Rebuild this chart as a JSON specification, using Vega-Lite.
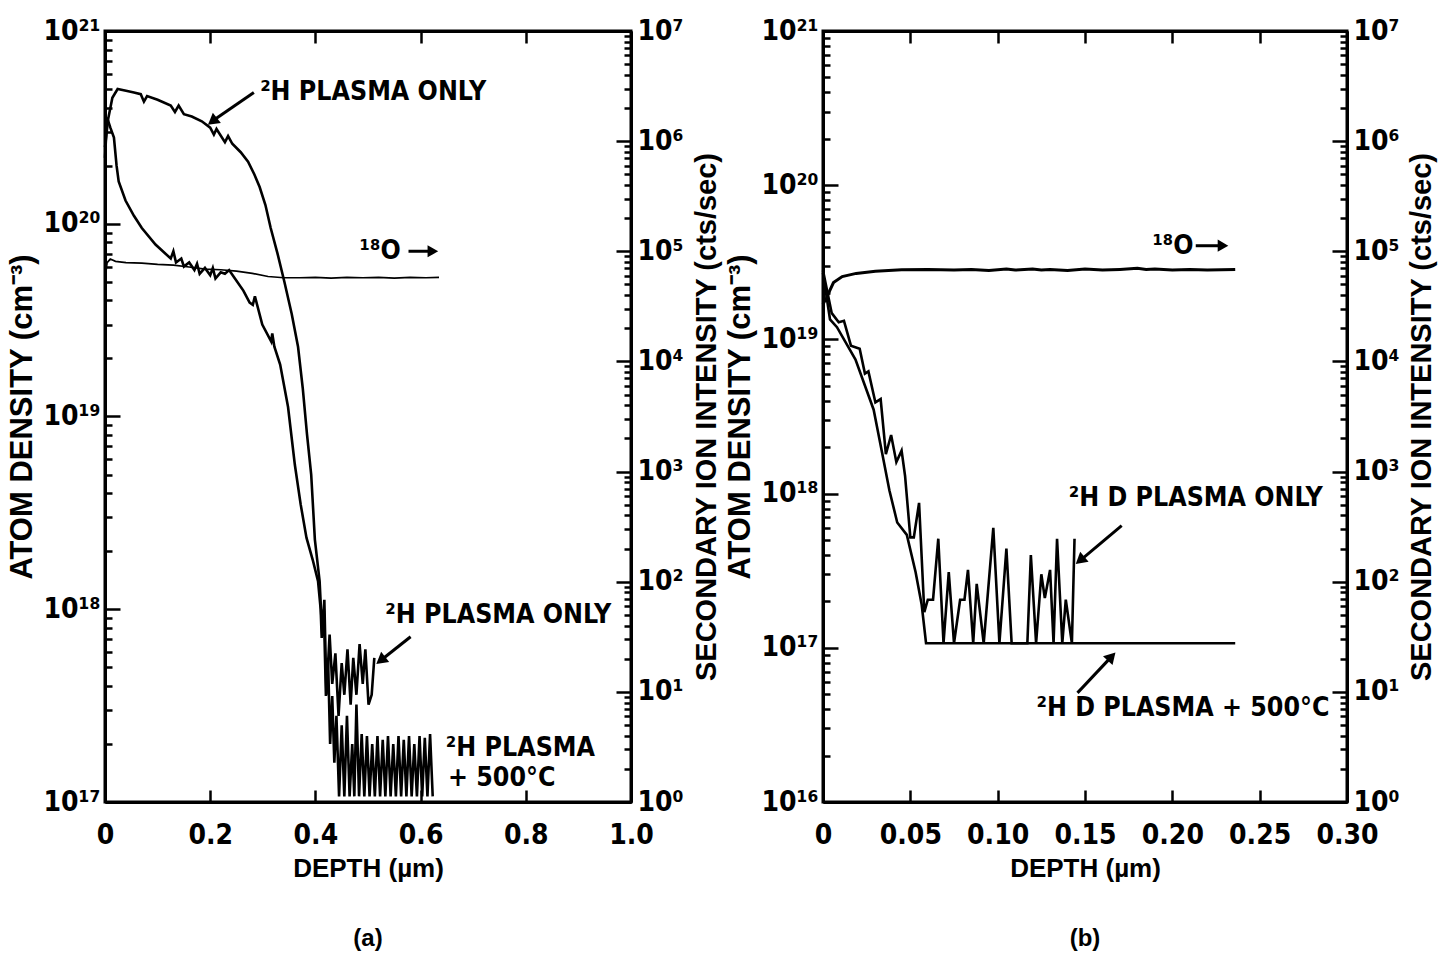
{
  "$schema": "https://vega.github.io/schema/vega-lite/v6.json",
  "background": "white",
  "padding": {"left": 5, "top": 15, "right": 0, "bottom": 0},
  "spacing": 0,
  "config": {
    "font": "Liberation Sans",
    "view": {"stroke": "black", "strokeWidth": 3},
    "axis": {
      "domainColor": "black", "domainWidth": 3, "tickColor": "black", "tickWidth": 2.5,
      "labelFont": "Liberation Sans Narrow, Arial Narrow, DejaVu Sans Condensed, sans-serif",
      "labelFontWeight": "bold", "labelFontSize": 28, "labelColor": "black",
      "titleFont": "Liberation Sans", "titleFontWeight": "bold", "titleFontSize": 26, "titleColor": "black",
      "grid": false, "labelOverlap": false, "labelBound": false, "labelFlush": false
    },
    "title": {"font": "Liberation Sans", "fontWeight": "bold", "color": "black", "fontSize": 24}
  },
  "datasets": {
    "a_h": [
      {"s": "only", "depth": 0.000, "conc": 2.5e20}, {"s": "only", "depth": 0.006, "conc": 3.5e20}, {"s": "only", "depth": 0.014, "conc": 4.5e20}, {"s": "only", "depth": 0.024, "conc": 5.0e20},
      {"s": "only", "depth": 0.040, "conc": 4.9e20}, {"s": "only", "depth": 0.055, "conc": 4.8e20}, {"s": "only", "depth": 0.068, "conc": 4.7e20}, {"s": "only", "depth": 0.074, "conc": 4.3e20},
      {"s": "only", "depth": 0.080, "conc": 4.6e20}, {"s": "only", "depth": 0.100, "conc": 4.4e20}, {"s": "only", "depth": 0.125, "conc": 4.1e20}, {"s": "only", "depth": 0.133, "conc": 3.8e20},
      {"s": "only", "depth": 0.140, "conc": 4.1e20}, {"s": "only", "depth": 0.150, "conc": 3.7e20}, {"s": "only", "depth": 0.165, "conc": 3.6e20}, {"s": "only", "depth": 0.184, "conc": 3.4e20},
      {"s": "only", "depth": 0.200, "conc": 3.15e20}, {"s": "only", "depth": 0.207, "conc": 2.9e20}, {"s": "only", "depth": 0.212, "conc": 3.1e20}, {"s": "only", "depth": 0.228, "conc": 2.65e20},
      {"s": "only", "depth": 0.234, "conc": 2.85e20}, {"s": "only", "depth": 0.242, "conc": 2.6e20}, {"s": "only", "depth": 0.258, "conc": 2.35e20}, {"s": "only", "depth": 0.272, "conc": 2.1e20},
      {"s": "only", "depth": 0.284, "conc": 1.8e20}, {"s": "only", "depth": 0.294, "conc": 1.55e20}, {"s": "only", "depth": 0.305, "conc": 1.25e20}, {"s": "only", "depth": 0.315, "conc": 9.5e19},
      {"s": "only", "depth": 0.328, "conc": 7.0e19}, {"s": "only", "depth": 0.341, "conc": 5.0e19}, {"s": "only", "depth": 0.355, "conc": 3.4e19}, {"s": "only", "depth": 0.367, "conc": 2.3e19},
      {"s": "only", "depth": 0.376, "conc": 1.4e19}, {"s": "only", "depth": 0.384, "conc": 8.1e18}, {"s": "only", "depth": 0.392, "conc": 5.0e18}, {"s": "only", "depth": 0.399, "conc": 2.3e18},
      {"s": "only", "depth": 0.408, "conc": 1.4e18}, {"s": "only", "depth": 0.413, "conc": 7.4e17}, {"s": "only", "depth": 0.417, "conc": 1.12e18}, {"s": "only", "depth": 0.421, "conc": 3.6e17},
      {"s": "only", "depth": 0.427, "conc": 7.4e17}, {"s": "only", "depth": 0.432, "conc": 4.1e17}, {"s": "only", "depth": 0.438, "conc": 5.9e17}, {"s": "only", "depth": 0.444, "conc": 2.8e17},
      {"s": "only", "depth": 0.450, "conc": 5.25e17}, {"s": "only", "depth": 0.455, "conc": 3.6e17}, {"s": "only", "depth": 0.461, "conc": 6.2e17}, {"s": "only", "depth": 0.467, "conc": 3.2e17},
      {"s": "only", "depth": 0.472, "conc": 5.6e17}, {"s": "only", "depth": 0.478, "conc": 3.6e17}, {"s": "only", "depth": 0.484, "conc": 6.6e17}, {"s": "only", "depth": 0.490, "conc": 4.1e17},
      {"s": "only", "depth": 0.495, "conc": 6.2e17}, {"s": "only", "depth": 0.501, "conc": 3.2e17}, {"s": "only", "depth": 0.507, "conc": 3.6e17}, {"s": "only", "depth": 0.512, "conc": 5.6e17},
      {"s": "anneal", "depth": 0.000, "conc": 2.2e20}, {"s": "anneal", "depth": 0.004, "conc": 3.55e20}, {"s": "anneal", "depth": 0.010, "conc": 3.16e20}, {"s": "anneal", "depth": 0.017, "conc": 2.8e20},
      {"s": "anneal", "depth": 0.022, "conc": 2.0e20}, {"s": "anneal", "depth": 0.026, "conc": 1.66e20}, {"s": "anneal", "depth": 0.039, "conc": 1.32e20}, {"s": "anneal", "depth": 0.055, "conc": 1.1e20},
      {"s": "anneal", "depth": 0.070, "conc": 9.5e19}, {"s": "anneal", "depth": 0.096, "conc": 7.8e19}, {"s": "anneal", "depth": 0.125, "conc": 6.6e19}, {"s": "anneal", "depth": 0.130, "conc": 7.2e19},
      {"s": "anneal", "depth": 0.135, "conc": 6.3e19}, {"s": "anneal", "depth": 0.145, "conc": 6.6e19}, {"s": "anneal", "depth": 0.150, "conc": 6.0e19}, {"s": "anneal", "depth": 0.160, "conc": 6.3e19},
      {"s": "anneal", "depth": 0.170, "conc": 5.75e19}, {"s": "anneal", "depth": 0.175, "conc": 6.2e19}, {"s": "anneal", "depth": 0.180, "conc": 5.5e19}, {"s": "anneal", "depth": 0.190, "conc": 5.9e19},
      {"s": "anneal", "depth": 0.200, "conc": 5.4e19}, {"s": "anneal", "depth": 0.205, "conc": 5.9e19}, {"s": "anneal", "depth": 0.210, "conc": 5.2e19}, {"s": "anneal", "depth": 0.220, "conc": 5.6e19},
      {"s": "anneal", "depth": 0.228, "conc": 5.5e19}, {"s": "anneal", "depth": 0.236, "conc": 5.75e19}, {"s": "anneal", "depth": 0.246, "conc": 5.25e19}, {"s": "anneal", "depth": 0.263, "conc": 4.5e19},
      {"s": "anneal", "depth": 0.275, "conc": 3.9e19}, {"s": "anneal", "depth": 0.281, "conc": 3.8e19}, {"s": "anneal", "depth": 0.285, "conc": 4.2e19}, {"s": "anneal", "depth": 0.299, "conc": 3.0e19},
      {"s": "anneal", "depth": 0.316, "conc": 2.45e19}, {"s": "anneal", "depth": 0.318, "conc": 2.7e19}, {"s": "anneal", "depth": 0.322, "conc": 2.3e19}, {"s": "anneal", "depth": 0.333, "conc": 1.86e19},
      {"s": "anneal", "depth": 0.348, "conc": 1.12e19}, {"s": "anneal", "depth": 0.361, "conc": 5.6e18}, {"s": "anneal", "depth": 0.372, "conc": 3.5e18}, {"s": "anneal", "depth": 0.383, "conc": 2.35e18},
      {"s": "anneal", "depth": 0.395, "conc": 1.8e18}, {"s": "anneal", "depth": 0.405, "conc": 1.4e18}, {"s": "anneal", "depth": 0.410, "conc": 1.0e18}, {"s": "anneal", "depth": 0.412, "conc": 7.1e17},
      {"s": "anneal", "depth": 0.416, "conc": 1.0e18}, {"s": "anneal", "depth": 0.420, "conc": 3.55e17}, {"s": "anneal", "depth": 0.424, "conc": 5.6e17}, {"s": "anneal", "depth": 0.428, "conc": 2.0e17},
      {"s": "anneal", "depth": 0.432, "conc": 3.55e17}, {"s": "anneal", "depth": 0.436, "conc": 1.6e17}, {"s": "anneal", "depth": 0.440, "conc": 2.8e17}, {"s": "anneal", "depth": 0.445, "conc": 1.07e17},
      {"s": "anneal", "depth": 0.450, "conc": 2.5e17}, {"s": "anneal", "depth": 0.455, "conc": 1.07e17}, {"s": "anneal", "depth": 0.460, "conc": 2.8e17}, {"s": "anneal", "depth": 0.465, "conc": 1.07e17},
      {"s": "anneal", "depth": 0.470, "conc": 2.0e17}, {"s": "anneal", "depth": 0.474, "conc": 1.07e17}, {"s": "anneal", "depth": 0.478, "conc": 3.2e17}, {"s": "anneal", "depth": 0.483, "conc": 1.07e17},
      {"s": "anneal", "depth": 0.488, "conc": 2.25e17}, {"s": "anneal", "depth": 0.493, "conc": 1.07e17}, {"s": "anneal", "depth": 0.498, "conc": 2.2e17}, {"s": "anneal", "depth": 0.503, "conc": 1.07e17},
      {"s": "anneal", "depth": 0.508, "conc": 2.0e17}, {"s": "anneal", "depth": 0.513, "conc": 1.07e17}, {"s": "anneal", "depth": 0.518, "conc": 2.2e17}, {"s": "anneal", "depth": 0.523, "conc": 1.07e17},
      {"s": "anneal", "depth": 0.528, "conc": 2.1e17}, {"s": "anneal", "depth": 0.533, "conc": 1.07e17}, {"s": "anneal", "depth": 0.538, "conc": 2.2e17}, {"s": "anneal", "depth": 0.543, "conc": 1.07e17},
      {"s": "anneal", "depth": 0.548, "conc": 2.0e17}, {"s": "anneal", "depth": 0.553, "conc": 1.07e17}, {"s": "anneal", "depth": 0.558, "conc": 2.2e17}, {"s": "anneal", "depth": 0.563, "conc": 1.07e17},
      {"s": "anneal", "depth": 0.568, "conc": 2.1e17}, {"s": "anneal", "depth": 0.573, "conc": 1.07e17}, {"s": "anneal", "depth": 0.578, "conc": 2.2e17}, {"s": "anneal", "depth": 0.583, "conc": 1.07e17},
      {"s": "anneal", "depth": 0.588, "conc": 2.0e17}, {"s": "anneal", "depth": 0.593, "conc": 1.07e17}, {"s": "anneal", "depth": 0.598, "conc": 2.2e17}, {"s": "anneal", "depth": 0.603, "conc": 1.07e17},
      {"s": "anneal", "depth": 0.608, "conc": 2.15e17}, {"s": "anneal", "depth": 0.613, "conc": 1.07e17}, {"s": "anneal", "depth": 0.618, "conc": 2.25e17}, {"s": "anneal", "depth": 0.623, "conc": 1.07e17}
    ],
    "a_o": [
      {"depth": 0.000, "cps": 5.6e4}, {"depth": 0.004, "cps": 7.9e4}, {"depth": 0.010, "cps": 8.5e4}, {"depth": 0.020, "cps": 8.1e4},
      {"depth": 0.040, "cps": 7.9e4}, {"depth": 0.070, "cps": 7.8e4}, {"depth": 0.100, "cps": 7.6e4}, {"depth": 0.130, "cps": 7.5e4},
      {"depth": 0.160, "cps": 7.2e4}, {"depth": 0.190, "cps": 6.9e4}, {"depth": 0.220, "cps": 6.8e4}, {"depth": 0.250, "cps": 6.6e4},
      {"depth": 0.280, "cps": 6.3e4}, {"depth": 0.310, "cps": 5.9e4}, {"depth": 0.340, "cps": 5.75e4}, {"depth": 0.370, "cps": 5.75e4},
      {"depth": 0.400, "cps": 5.8e4}, {"depth": 0.430, "cps": 5.7e4}, {"depth": 0.460, "cps": 5.8e4}, {"depth": 0.490, "cps": 5.75e4},
      {"depth": 0.520, "cps": 5.8e4}, {"depth": 0.550, "cps": 5.7e4}, {"depth": 0.580, "cps": 5.8e4}, {"depth": 0.610, "cps": 5.75e4},
      {"depth": 0.635, "cps": 5.8e4}
    ],
    "a_txt": [
      {"t": "²H PLASMA ONLY", "depth": 0.295, "conc": 4.84e20},
      {"t": "¹⁸O", "depth": 0.484, "conc": 7.2e19},
      {"t": "²H PLASMA ONLY", "depth": 0.533, "conc": 9.3e17},
      {"t": "²H PLASMA", "depth": 0.648, "conc": 1.9e17},
      {"t": "+ 500°C", "depth": 0.652, "conc": 1.33e17}
    ],
    "a_arr": [
      {"id": "up", "depth": 0.283, "conc": 4.8e20, "depth2": 0.207, "conc2": 3.45e20},
      {"id": "o18", "depth": 0.577, "conc": 7.2e19, "depth2": 0.62, "conc2": 7.2e19},
      {"id": "low", "depth": 0.581, "conc": 7.2e17, "depth2": 0.527, "conc2": 5.5e17}
    ],
    "b_h": [
      {"s": "only", "depth": 0.000, "conc": 2.8e19}, {"s": "only", "depth": 0.005, "conc": 1.48e19}, {"s": "only", "depth": 0.009, "conc": 1.29e19}, {"s": "only", "depth": 0.012, "conc": 1.32e19},
      {"s": "only", "depth": 0.016, "conc": 9.1e18}, {"s": "only", "depth": 0.021, "conc": 8.7e18}, {"s": "only", "depth": 0.024, "conc": 6.0e18}, {"s": "only", "depth": 0.026, "conc": 6.2e18},
      {"s": "only", "depth": 0.030, "conc": 3.9e18}, {"s": "only", "depth": 0.033, "conc": 4.1e18}, {"s": "only", "depth": 0.036, "conc": 1.8e18}, {"s": "only", "depth": 0.039, "conc": 2.4e18},
      {"s": "only", "depth": 0.042, "conc": 1.6e18}, {"s": "only", "depth": 0.045, "conc": 1.9e18}, {"s": "only", "depth": 0.047, "conc": 1.3e18}, {"s": "only", "depth": 0.050, "conc": 5.2e17},
      {"s": "only", "depth": 0.052, "conc": 5.2e17}, {"s": "only", "depth": 0.055, "conc": 8.7e17}, {"s": "only", "depth": 0.058, "conc": 1.7e17}, {"s": "only", "depth": 0.060, "conc": 2.05e17},
      {"s": "only", "depth": 0.063, "conc": 2.05e17}, {"s": "only", "depth": 0.066, "conc": 5.1e17}, {"s": "only", "depth": 0.069, "conc": 1.07e17}, {"s": "only", "depth": 0.072, "conc": 3.1e17},
      {"s": "only", "depth": 0.075, "conc": 1.07e17}, {"s": "only", "depth": 0.0785, "conc": 2.05e17}, {"s": "only", "depth": 0.081, "conc": 2.05e17}, {"s": "only", "depth": 0.083, "conc": 3.2e17},
      {"s": "only", "depth": 0.086, "conc": 1.07e17}, {"s": "only", "depth": 0.088, "conc": 2.6e17}, {"s": "only", "depth": 0.092, "conc": 1.07e17}, {"s": "only", "depth": 0.0975, "conc": 6.0e17},
      {"s": "only", "depth": 0.101, "conc": 1.07e17}, {"s": "only", "depth": 0.105, "conc": 4.4e17}, {"s": "only", "depth": 0.108, "conc": 1.07e17}, {"s": "only", "depth": 0.117, "conc": 1.07e17},
      {"s": "only", "depth": 0.119, "conc": 4.0e17}, {"s": "only", "depth": 0.122, "conc": 1.07e17}, {"s": "only", "depth": 0.125, "conc": 3.0e17}, {"s": "only", "depth": 0.127, "conc": 2.1e17},
      {"s": "only", "depth": 0.130, "conc": 3.2e17}, {"s": "only", "depth": 0.132, "conc": 1.07e17}, {"s": "only", "depth": 0.134, "conc": 5.1e17}, {"s": "only", "depth": 0.137, "conc": 1.07e17},
      {"s": "only", "depth": 0.139, "conc": 2.05e17}, {"s": "only", "depth": 0.1425, "conc": 1.07e17}, {"s": "only", "depth": 0.144, "conc": 5.1e17},
      {"s": "anneal", "depth": 0.000, "conc": 2.7e19}, {"s": "anneal", "depth": 0.004, "conc": 1.35e19}, {"s": "anneal", "depth": 0.008, "conc": 1.2e19}, {"s": "anneal", "depth": 0.0186, "conc": 7.4e18},
      {"s": "anneal", "depth": 0.029, "conc": 3.5e18}, {"s": "anneal", "depth": 0.034, "conc": 1.8e18}, {"s": "anneal", "depth": 0.038, "conc": 1.05e18}, {"s": "anneal", "depth": 0.0425, "conc": 6.5e17},
      {"s": "anneal", "depth": 0.048, "conc": 5.4e17}, {"s": "anneal", "depth": 0.053, "conc": 3.1e17}, {"s": "anneal", "depth": 0.0565, "conc": 1.9e17}, {"s": "anneal", "depth": 0.059, "conc": 1.07e17},
      {"s": "anneal", "depth": 0.130, "conc": 1.07e17}, {"s": "anneal", "depth": 0.236, "conc": 1.07e17}
    ],
    "b_o": [
      {"depth": 0.000, "cps": 3.3e4}, {"depth": 0.002, "cps": 3.8e4}, {"depth": 0.006, "cps": 5.2e4}, {"depth": 0.011, "cps": 5.9e4},
      {"depth": 0.019, "cps": 6.3e4}, {"depth": 0.030, "cps": 6.6e4}, {"depth": 0.045, "cps": 6.8e4}, {"depth": 0.060, "cps": 6.85e4},
      {"depth": 0.075, "cps": 6.75e4}, {"depth": 0.085, "cps": 6.85e4}, {"depth": 0.095, "cps": 6.7e4}, {"depth": 0.105, "cps": 6.9e4},
      {"depth": 0.110, "cps": 6.75e4}, {"depth": 0.120, "cps": 6.9e4}, {"depth": 0.125, "cps": 6.75e4}, {"depth": 0.130, "cps": 6.85e4},
      {"depth": 0.140, "cps": 6.7e4}, {"depth": 0.150, "cps": 6.9e4}, {"depth": 0.160, "cps": 6.75e4}, {"depth": 0.170, "cps": 6.85e4},
      {"depth": 0.180, "cps": 7.0e4}, {"depth": 0.185, "cps": 6.85e4}, {"depth": 0.190, "cps": 6.9e4}, {"depth": 0.200, "cps": 6.75e4},
      {"depth": 0.210, "cps": 6.85e4}, {"depth": 0.220, "cps": 6.75e4}, {"depth": 0.236, "cps": 6.85e4}
    ],
    "b_txt": [
      {"t": "¹⁸O", "depth": 0.1886, "conc": 4.05e19},
      {"t": "²H D PLASMA ONLY", "depth": 0.1407, "conc": 9.4e17},
      {"t": "²H D PLASMA + 500°C", "depth": 0.1222, "conc": 4.1e16}
    ],
    "b_arr": [
      {"id": "o18", "depth": 0.2134, "conc": 4.05e19, "depth2": 0.228, "conc2": 4.05e19},
      {"id": "top", "depth": 0.171, "conc": 6.2e17, "depth2": 0.148, "conc2": 3.75e17},
      {"id": "bot", "depth": 0.1457, "conc": 5.1e16, "depth2": 0.1645, "conc2": 8.6e16}
    ]
  },
  "hconcat": [
    {
      "width": 526,
      "height": 771,
      "title": {"text": "(a)", "orient": "bottom", "offset": 46},
      "layer": [
        {
          "layer": [
            {
              "data": {"name": "a_h"},
              "mark": {"type": "line", "color": "black", "strokeWidth": 2.6},
              "encoding": {
                "x": {"field": "depth", "type": "quantitative", "scale": {"domain": [0, 1]},
                  "axis": {"orient": "bottom", "title": "DEPTH (µm)", "titlePadding": 6,
                    "values": [0, 0.2, 0.4, 0.6, 0.8, 1.0],
                    "labelExpr": "datum.value == 0 ? '0' : format(datum.value, '.1f')",
                    "tickSize": -12, "labelPadding": 31}},
                "y": {"field": "conc", "type": "quantitative", "scale": {"type": "log", "domain": [1e17, 1e21]},
                  "axis": {"orient": "left", "title": "ATOM DENSITY (cm⁻³)", "titlePadding": 4, "titleFontSize": 31,
                    "values": [1e17,2e17,3e17,4e17,5e17,6e17,7e17,8e17,9e17,1e18,2e18,3e18,4e18,5e18,6e18,7e18,8e18,9e18,1e19,2e19,3e19,4e19,5e19,6e19,7e19,8e19,9e19,1e20,2e20,3e20,4e20,5e20,6e20,7e20,8e20,9e20,1e21],
                    "labelExpr": "abs(log(datum.value)/LN10 - round(log(datum.value)/LN10)) > 0.01 ? '' : ['10⁰','10¹','10²','10³','10⁴','10⁵','10⁶','10⁷','10⁸','10⁹','10¹⁰','10¹¹','10¹²','10¹³','10¹⁴','10¹⁵','10¹⁶','10¹⁷','10¹⁸','10¹⁹','10²⁰','10²¹'][round(log(datum.value)/LN10)]",
                    "tickSize": {"condition": {"test": "abs(log(datum.value)/LN10 - round(log(datum.value)/LN10)) < 0.01", "value": -15}, "value": -7},
                    "labelPadding": 20}},
                "detail": {"field": "s"}
              }
            },
            {
              "data": {"name": "a_txt"},
              "mark": {"type": "text", "align": "left", "baseline": "middle", "font": "Liberation Sans Narrow, Arial Narrow, DejaVu Sans Condensed, sans-serif", "fontWeight": "bold", "fontSize": 26.5, "color": "black"},
              "encoding": {
                "x": {"field": "depth", "type": "quantitative", "scale": {"domain": [0, 1]}},
                "y": {"field": "conc", "type": "quantitative", "scale": {"type": "log", "domain": [1e17, 1e21]}},
                "text": {"field": "t"}
              }
            },
            {
              "data": {"name": "a_arr"},
              "mark": {"type": "rule", "color": "black", "strokeWidth": 3},
              "encoding": {
                "x": {"field": "depth", "type": "quantitative", "scale": {"domain": [0, 1]}},
                "y": {"field": "conc", "type": "quantitative", "scale": {"type": "log", "domain": [1e17, 1e21]}},
                "x2": {"field": "depth2"},
                "y2": {"field": "conc2"}
              }
            },
            {
              "data": {"name": "a_arr"},
              "transform": [{"filter": "datum.id != 'o18'"}],
              "mark": {"type": "point", "shape": "triangle", "filled": true, "size": 170, "angle": 232, "color": "black", "opacity": 1},
              "encoding": {
                "x": {"field": "depth2", "type": "quantitative", "scale": {"domain": [0, 1]}},
                "y": {"field": "conc2", "type": "quantitative", "scale": {"type": "log", "domain": [1e17, 1e21]}}
              }
            },
            {
              "data": {"name": "a_arr"},
              "transform": [{"filter": "datum.id == 'o18'"}],
              "mark": {"type": "point", "shape": "triangle", "filled": true, "size": 150, "angle": 90, "color": "black", "opacity": 1},
              "encoding": {
                "x": {"field": "depth2", "type": "quantitative", "scale": {"domain": [0, 1]}},
                "y": {"field": "conc2", "type": "quantitative", "scale": {"type": "log", "domain": [1e17, 1e21]}}
              }
            }
          ]
        },
        {
          "data": {"name": "a_o"},
          "mark": {"type": "line", "color": "black", "strokeWidth": 1.7},
          "encoding": {
            "x": {"field": "depth", "type": "quantitative", "scale": {"domain": [0, 1]},
              "axis": {"orient": "top", "labels": false, "title": null, "values": [0, 0.2, 0.4, 0.6, 0.8, 1.0], "tickSize": -12}},
            "y": {"field": "cps", "type": "quantitative", "scale": {"type": "log", "domain": [1, 1e7]},
              "axis": {"orient": "right", "title": "SECONDARY ION INTENSITY (cts/sec)", "titleAngle": 270, "titleBaseline": "top", "titlePadding": 9, "titleFontSize": 29,
                "values": [1,2,3,4,5,6,7,8,9,10,20,30,40,50,60,70,80,90,100,200,300,400,500,600,700,800,900,1000,2000,3000,4000,5000,6000,7000,8000,9000,1e4,2e4,3e4,4e4,5e4,6e4,7e4,8e4,9e4,1e5,2e5,3e5,4e5,5e5,6e5,7e5,8e5,9e5,1e6,2e6,3e6,4e6,5e6,6e6,7e6,8e6,9e6,1e7],
                "labelExpr": "abs(log(datum.value)/LN10 - round(log(datum.value)/LN10)) > 0.01 ? '' : ['10⁰','10¹','10²','10³','10⁴','10⁵','10⁶','10⁷'][round(log(datum.value)/LN10)]",
                "tickSize": {"condition": {"test": "abs(log(datum.value)/LN10 - round(log(datum.value)/LN10)) < 0.01", "value": -15}, "value": -7},
                "labelPadding": 21}}
          }
        }
      ],
      "resolve": {"scale": {"x": "independent", "y": "independent"}}
    },
    {
      "width": 524,
      "height": 771,
      "title": {"text": "(b)", "orient": "bottom", "offset": 46},
      "layer": [
        {
          "layer": [
            {
              "data": {"name": "b_h"},
              "mark": {"type": "line", "color": "black", "strokeWidth": 2.6},
              "encoding": {
                "x": {"field": "depth", "type": "quantitative", "scale": {"domain": [0, 0.3]},
                  "axis": {"orient": "bottom", "title": "DEPTH (µm)", "titlePadding": 6,
                    "values": [0, 0.05, 0.1, 0.15, 0.2, 0.25, 0.3],
                    "labelExpr": "datum.value == 0 ? '0' : format(datum.value, '.2f')",
                    "tickSize": -12, "labelPadding": 31}},
                "y": {"field": "conc", "type": "quantitative", "scale": {"type": "log", "domain": [1e16, 1e21]},
                  "axis": {"orient": "left", "title": "ATOM DENSITY (cm⁻³)", "titlePadding": 4, "titleFontSize": 31,
                    "values": [1e16,2e16,3e16,4e16,5e16,6e16,7e16,8e16,9e16,1e17,2e17,3e17,4e17,5e17,6e17,7e17,8e17,9e17,1e18,2e18,3e18,4e18,5e18,6e18,7e18,8e18,9e18,1e19,2e19,3e19,4e19,5e19,6e19,7e19,8e19,9e19,1e20,2e20,3e20,4e20,5e20,6e20,7e20,8e20,9e20,1e21],
                    "labelExpr": "abs(log(datum.value)/LN10 - round(log(datum.value)/LN10)) > 0.01 ? '' : ['10⁰','10¹','10²','10³','10⁴','10⁵','10⁶','10⁷','10⁸','10⁹','10¹⁰','10¹¹','10¹²','10¹³','10¹⁴','10¹⁵','10¹⁶','10¹⁷','10¹⁸','10¹⁹','10²⁰','10²¹'][round(log(datum.value)/LN10)]",
                    "tickSize": {"condition": {"test": "abs(log(datum.value)/LN10 - round(log(datum.value)/LN10)) < 0.01", "value": -15}, "value": -7},
                    "labelPadding": 20}},
                "detail": {"field": "s"}
              }
            },
            {
              "data": {"name": "b_txt"},
              "mark": {"type": "text", "align": "left", "baseline": "middle", "font": "Liberation Sans Narrow, Arial Narrow, DejaVu Sans Condensed, sans-serif", "fontWeight": "bold", "fontSize": 26.5, "color": "black"},
              "encoding": {
                "x": {"field": "depth", "type": "quantitative", "scale": {"domain": [0, 0.3]}},
                "y": {"field": "conc", "type": "quantitative", "scale": {"type": "log", "domain": [1e16, 1e21]}},
                "text": {"field": "t"}
              }
            },
            {
              "data": {"name": "b_arr"},
              "mark": {"type": "rule", "color": "black", "strokeWidth": 3},
              "encoding": {
                "x": {"field": "depth", "type": "quantitative", "scale": {"domain": [0, 0.3]}},
                "y": {"field": "conc", "type": "quantitative", "scale": {"type": "log", "domain": [1e16, 1e21]}},
                "x2": {"field": "depth2"},
                "y2": {"field": "conc2"}
              }
            },
            {
              "data": {"name": "b_arr"},
              "transform": [{"filter": "datum.id == 'top'"}],
              "mark": {"type": "point", "shape": "triangle", "filled": true, "size": 170, "angle": 230, "color": "black", "opacity": 1},
              "encoding": {
                "x": {"field": "depth2", "type": "quantitative", "scale": {"domain": [0, 0.3]}},
                "y": {"field": "conc2", "type": "quantitative", "scale": {"type": "log", "domain": [1e16, 1e21]}}
              }
            },
            {
              "data": {"name": "b_arr"},
              "transform": [{"filter": "datum.id == 'bot'"}],
              "mark": {"type": "point", "shape": "triangle", "filled": true, "size": 170, "angle": 43, "color": "black", "opacity": 1},
              "encoding": {
                "x": {"field": "depth2", "type": "quantitative", "scale": {"domain": [0, 0.3]}},
                "y": {"field": "conc2", "type": "quantitative", "scale": {"type": "log", "domain": [1e16, 1e21]}}
              }
            },
            {
              "data": {"name": "b_arr"},
              "transform": [{"filter": "datum.id == 'o18'"}],
              "mark": {"type": "point", "shape": "triangle", "filled": true, "size": 150, "angle": 90, "color": "black", "opacity": 1},
              "encoding": {
                "x": {"field": "depth2", "type": "quantitative", "scale": {"domain": [0, 0.3]}},
                "y": {"field": "conc2", "type": "quantitative", "scale": {"type": "log", "domain": [1e16, 1e21]}}
              }
            }
          ]
        },
        {
          "data": {"name": "b_o"},
          "mark": {"type": "line", "color": "black", "strokeWidth": 3},
          "encoding": {
            "x": {"field": "depth", "type": "quantitative", "scale": {"domain": [0, 0.3]},
              "axis": {"orient": "top", "labels": false, "title": null, "values": [0, 0.05, 0.1, 0.15, 0.2, 0.25, 0.3], "tickSize": -12}},
            "y": {"field": "cps", "type": "quantitative", "scale": {"type": "log", "domain": [1, 1e7]},
              "axis": {"orient": "right", "title": "SECONDARY ION INTENSITY (cts/sec)", "titleAngle": 270, "titleBaseline": "top", "titlePadding": 8, "titleFontSize": 29,
                "values": [1,2,3,4,5,6,7,8,9,10,20,30,40,50,60,70,80,90,100,200,300,400,500,600,700,800,900,1000,2000,3000,4000,5000,6000,7000,8000,9000,1e4,2e4,3e4,4e4,5e4,6e4,7e4,8e4,9e4,1e5,2e5,3e5,4e5,5e5,6e5,7e5,8e5,9e5,1e6,2e6,3e6,4e6,5e6,6e6,7e6,8e6,9e6,1e7],
                "labelExpr": "abs(log(datum.value)/LN10 - round(log(datum.value)/LN10)) > 0.01 ? '' : ['10⁰','10¹','10²','10³','10⁴','10⁵','10⁶','10⁷'][round(log(datum.value)/LN10)]",
                "tickSize": {"condition": {"test": "abs(log(datum.value)/LN10 - round(log(datum.value)/LN10)) < 0.01", "value": -15}, "value": -7},
                "labelPadding": 21}}
          }
        }
      ],
      "resolve": {"scale": {"x": "independent", "y": "independent"}}
    }
  ]
}
